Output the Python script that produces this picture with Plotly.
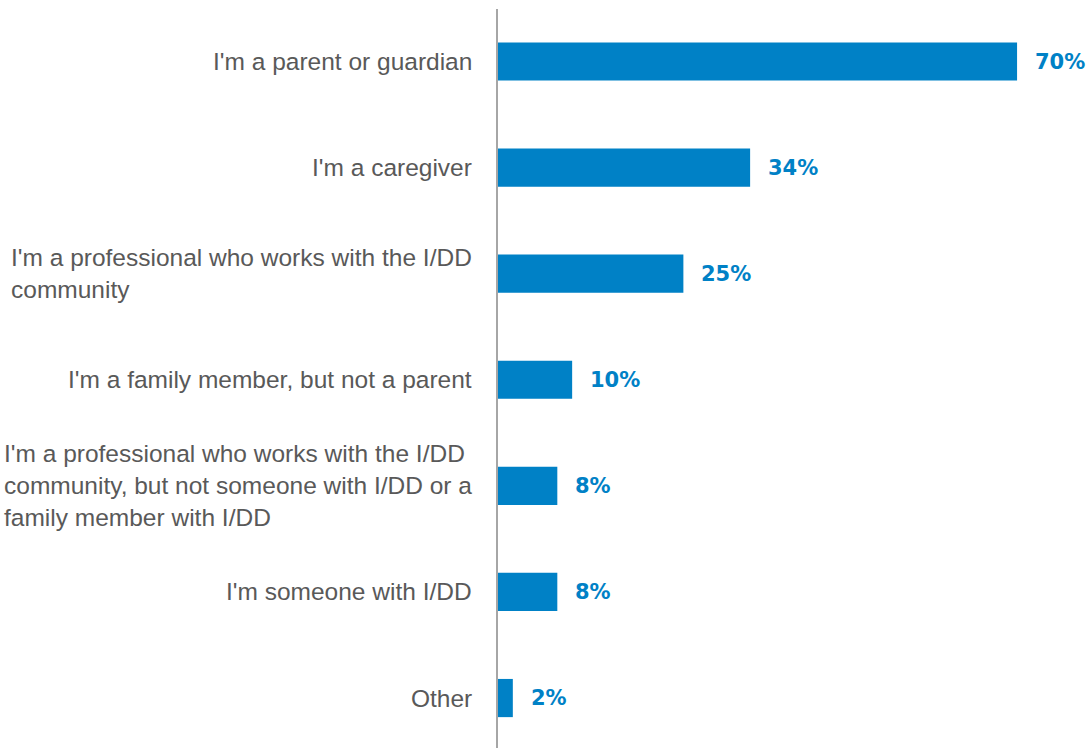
import plotly.graph_objects as go

# Survey respondents by relationship to the I/DD community (share of respondents, %)
categories = [
    "I'm a parent or guardian",
    "I'm a caregiver",
    "I'm a professional who works with the I/DD<br>community",
    "I'm a family member, but not a parent",
    "I'm a professional who works with the I/DD<br>community, but not someone with I/DD or a<br>family member with I/DD",
    "I'm someone with I/DD",
    "Other",
]
values = [70, 34, 25, 10, 8, 8, 2]

BAR_COLOR = "#0081C6"
LABEL_COLOR = "#595959"

positions = list(range(len(categories)))

fig = go.Figure(
    go.Bar(
        x=values,
        y=positions,
        orientation="h",
        width=0.36,
        marker=dict(color=BAR_COLOR, line=dict(width=0)),
        hoverinfo="skip",
    )
)

annotations = []
for pos, cat, val in zip(positions, categories, values):
    # category label to the left of the axis
    annotations.append(
        dict(
            x=0, xref="paper", y=pos, yref="y",
            text=cat, showarrow=False,
            xanchor="right", yanchor="middle", align="left",
            xshift=-24,
            font=dict(family="Liberation Sans, Arial, sans-serif", size=24.5, color=LABEL_COLOR),
        )
    )
    # value label at the end of each bar
    annotations.append(
        dict(
            x=val, xref="x", y=pos, yref="y",
            text=f"<b>{val}%</b>", showarrow=False,
            xanchor="left", yanchor="middle",
            xshift=16,
            font=dict(family="DejaVu Sans, Verdana, sans-serif", size=21, color=BAR_COLOR),
        )
    )

fig.update_layout(
    width=1089,
    height=748,
    margin=dict(l=498, r=0, t=9, b=0),
    paper_bgcolor="white",
    plot_bgcolor="white",
    showlegend=False,
    annotations=annotations,
    xaxis=dict(
        range=[0, 79.7],
        showgrid=False, zeroline=False, showticklabels=False, showline=False,
        fixedrange=True,
    ),
    yaxis=dict(
        range=[6.471, -0.495],
        showgrid=False, zeroline=False, showticklabels=False,
        showline=True, linecolor="#A6A6A6", linewidth=2,
        fixedrange=True,
    ),
)

fig.write_html("out.html")
